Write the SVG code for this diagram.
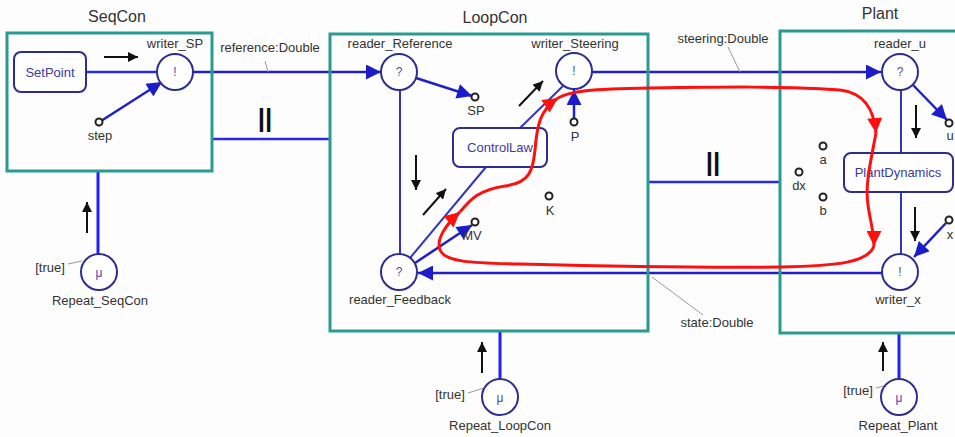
<svg xmlns="http://www.w3.org/2000/svg" width="955" height="437" viewBox="0 0 955 437">
<style>
text{font-family:"Liberation Sans",Arial,sans-serif;fill:#333;}
.lbl{font-size:13px;text-anchor:middle;}
.ttl{font-size:16px;text-anchor:middle;fill:#333;font-weight:normal;}
.sym{font-size:12px;text-anchor:middle;fill:#4a4ab0;}
.box{fill:none;stroke:#2a9a92;stroke-width:3;}
.act{fill:#fff;stroke:#2d2d8f;stroke-width:2;}
.act-t{font-size:13px;text-anchor:middle;fill:#3a3aa0;}
.circ{fill:#fff;stroke:#2d2d8f;stroke-width:2;}
.term{fill:#fff;stroke:#222;stroke-width:2;}
.c{stroke:#2a2ae6;stroke-width:2.5;fill:none;}
.ci{stroke:#3434c0;stroke-width:2;fill:none;}
.ca{stroke:#2020c8;stroke-width:2.5;fill:none;marker-end:url(#ab);}
.blk{stroke:#111;stroke-width:2;fill:none;marker-end:url(#ak);}
.red{stroke:#ff1010;stroke-width:3;fill:none;marker-end:url(#ar);}
.lead{stroke:#999;stroke-width:1;fill:none;}
.par{font-size:26px;text-anchor:middle;fill:#111;font-weight:bold;}
</style>
<defs>
<marker id="ab" viewBox="0 0 10 10" refX="10" refY="5" markerWidth="6.5" markerHeight="6" orient="auto" markerUnits="strokeWidth"><path d="M0,0 L10,5 L0,10 z" fill="#1c1cc8"/></marker>
<marker id="ak" viewBox="0 0 10 10" refX="10" refY="5" markerWidth="5" markerHeight="5" orient="auto" markerUnits="strokeWidth"><path d="M0,0 L10,5 L0,10 z" fill="#111"/></marker>
<marker id="ar" viewBox="0 0 10 10" refX="10" refY="5" markerWidth="6.5" markerHeight="5" orient="auto" markerUnits="strokeWidth"><path d="M0,0 L10,5 L0,10 z" fill="#ff1010"/></marker>
</defs>
<rect x="0" y="0" width="955" height="437" fill="#fdfdfd"/>

<g id="connectors">
<line class="c" x1="86" y1="72" x2="157" y2="72"/>
<line class="ca" x1="101" y1="121" x2="162" y2="82"/>
<line class="ca" x1="193" y1="72" x2="381" y2="72"/>
<line class="c" x1="212" y1="139" x2="330" y2="139"/>
<line class="ca" x1="416" y1="78" x2="472" y2="96"/>
<line class="ci" x1="400" y1="90" x2="400" y2="254"/>
<line class="ci" x1="563" y1="86" x2="520" y2="128"/>
<line class="ci" x1="486" y1="167" x2="410" y2="258"/>
<line class="ca" x1="415" y1="263" x2="472" y2="225"/>
<line class="ca" x1="574" y1="119" x2="574" y2="90"/>
<line class="ca" x1="592" y1="72" x2="881" y2="72"/>
<line class="c" x1="648" y1="182" x2="780" y2="182"/>
<line class="ca" x1="882" y1="273" x2="418" y2="273"/>
<line class="ca" x1="912" y1="84" x2="947" y2="120"/>
<line class="ci" x1="901" y1="90" x2="901" y2="153"/>
<line class="ci" x1="901" y1="192" x2="901" y2="254"/>
<line class="ca" x1="946" y1="223" x2="914" y2="257"/>
<line class="c" x1="98" y1="171" x2="98" y2="254" style="stroke:#2020ff;stroke-width:3"/>
<line class="c" x1="500" y1="331" x2="500" y2="379" style="stroke:#2020ff;stroke-width:3"/>
<line class="c" x1="899" y1="333" x2="899" y2="379" style="stroke:#2020ff;stroke-width:3"/>
<line class="lead" x1="265" y1="61" x2="268" y2="72"/>
<line class="lead" x1="728" y1="47" x2="740" y2="72"/>
<line class="lead" x1="652" y1="277" x2="703" y2="315"/>
<line class="lead" x1="68" y1="264" x2="82" y2="261"/>
<line class="lead" x1="468" y1="393" x2="484" y2="388"/>
<line class="lead" x1="876" y1="388" x2="884" y2="386"/>
<text class="lbl" x="270" y="52">reference:Double</text>
<text class="lbl" x="723" y="43">steering:Double</text>
<text class="lbl" x="717" y="327">state:Double</text>
<text class="par" x="265" y="127">||</text>
<text class="par" x="713" y="171">||</text>
</g>

<g id="flow-arrows">
<line class="blk" x1="104" y1="57" x2="138" y2="57"/>
<line class="blk" x1="87" y1="233" x2="87" y2="202"/>
<line class="blk" x1="416" y1="155" x2="416" y2="190"/>
<line class="blk" x1="423" y1="215" x2="446" y2="189"/>
<line class="blk" x1="519" y1="106" x2="543" y2="81"/>
<line class="blk" x1="916" y1="105" x2="916" y2="138"/>
<line class="blk" x1="915" y1="207" x2="915" y2="241"/>
<line class="blk" x1="482" y1="373" x2="482" y2="342"/>
<line class="blk" x1="883" y1="371" x2="883" y2="342"/>
</g>

<g id="SeqCon">
<rect class="box" x="7" y="33" width="205" height="138"/>
<text class="ttl" x="117" y="22">SeqCon</text>
</g>
<g id="SetPoint">
<rect class="act" x="14" y="52" width="72" height="40" rx="7"/>
<text class="act-t" x="50" y="77">SetPoint</text>
</g>
<g id="writer_SP">
<circle class="circ" cx="175" cy="72" r="18"/>
<text class="sym" x="175" y="76">!</text>
<text class="lbl" x="175" y="48">writer_SP</text>
</g>
<g id="step">
<circle class="term" cx="99" cy="122" r="3.5"/>
<text class="lbl" x="100" y="140">step</text>
</g>
<g id="Repeat_SeqCon">
<circle class="circ" cx="99" cy="272" r="18"/>
<text class="sym" x="99" y="277">μ</text>
<text class="lbl" x="50" y="272">[true]</text>
<text class="lbl" x="100" y="305">Repeat_SeqCon</text>
</g>

<g id="LoopCon">
<rect class="box" x="330" y="34" width="318" height="297"/>
<text class="ttl" x="495" y="23">LoopCon</text>
</g>
<g id="reader_Reference">
<circle class="circ" cx="399" cy="72" r="18"/>
<text class="sym" x="399" y="76">?</text>
<text class="lbl" x="400" y="48">reader_Reference</text>
</g>
<g id="SP">
<circle class="term" cx="475" cy="97" r="3.5"/>
<text class="lbl" x="476" y="115">SP</text>
</g>
<g id="writer_Steering">
<circle class="circ" cx="574" cy="71" r="18"/>
<text class="sym" x="574" y="75">!</text>
<text class="lbl" x="575" y="48">writer_Steering</text>
</g>
<g id="P">
<circle class="term" cx="574" cy="122" r="3.5"/>
<text class="lbl" x="575" y="141">P</text>
</g>
<g id="ControlLaw">
<rect class="act" x="453" y="128" width="94" height="39" rx="7"/>
<text class="act-t" x="500" y="152">ControlLaw</text>
</g>
<g id="K">
<circle class="term" cx="549" cy="196" r="3.5"/>
<text class="lbl" x="550" y="215">K</text>
</g>
<g id="MV">
<circle class="term" cx="475" cy="222" r="3.5"/>
<text class="lbl" x="472" y="240">MV</text>
</g>
<g id="reader_Feedback">
<circle class="circ" cx="399" cy="272" r="18"/>
<text class="sym" x="399" y="276">?</text>
<text class="lbl" x="400" y="304">reader_Feedback</text>
</g>
<g id="Repeat_LoopCon">
<circle class="circ" cx="500" cy="397" r="18"/>
<text class="sym" x="500" y="402">μ</text>
<text class="lbl" x="450" y="399">[true]</text>
<text class="lbl" x="500" y="430">Repeat_LoopCon</text>
</g>

<g id="Plant">
<rect class="box" x="780" y="31" width="185" height="302"/>
<text class="ttl" x="880" y="19">Plant</text>
</g>
<g id="reader_u">
<circle class="circ" cx="900" cy="72" r="18"/>
<text class="sym" x="900" y="76">?</text>
<text class="lbl" x="900" y="48">reader_u</text>
</g>
<g id="u">
<circle class="term" cx="949" cy="123" r="3.5"/>
<text class="lbl" x="950" y="140">u</text>
</g>
<g id="a">
<circle class="term" cx="823" cy="146" r="3.5"/>
<text class="lbl" x="823" y="164">a</text>
</g>
<g id="dx">
<circle class="term" cx="799" cy="172" r="3.5"/>
<text class="lbl" x="799" y="190">dx</text>
</g>
<g id="b">
<circle class="term" cx="823" cy="197" r="3.5"/>
<text class="lbl" x="823" y="215">b</text>
</g>
<g id="PlantDynamics">
<rect class="act" x="844" y="153" width="109" height="39" rx="7"/>
<text class="act-t" x="898" y="177">PlantDynamics</text>
</g>
<g id="x">
<circle class="term" cx="949" cy="220" r="3.5"/>
<text class="lbl" x="950" y="239">x</text>
</g>
<g id="writer_x">
<circle class="circ" cx="900" cy="272" r="18"/>
<text class="sym" x="900" y="276">!</text>
<text class="lbl" x="898" y="304">writer_x</text>
</g>
<g id="Repeat_Plant">
<circle class="circ" cx="899" cy="397" r="18"/>
<text class="sym" x="899" y="402">μ</text>
<text class="lbl" x="858" y="395">[true]</text>
<text class="lbl" x="898" y="430">Repeat_Plant</text>
</g>

<g id="control-loop">
<path class="red" d="M874,246 C868,262 840,266 780,267 C700,268 600,266 520,264 C470,263 445,262 440,250 C436,240 445,225 460,212"/>
<path class="red" d="M460,212 C470,200 478,190 505,186 C530,183 533,170 535,150 C537,125 540,110 558,98"/>
<path class="red" d="M558,98 C570,91 590,89 650,88 C720,87 790,86 840,90 C865,93 874,110 876,133"/>
<path class="red" d="M876,133 C870,165 865,185 868,205 C870,220 874,232 874,246"/>
</g>
</svg>
